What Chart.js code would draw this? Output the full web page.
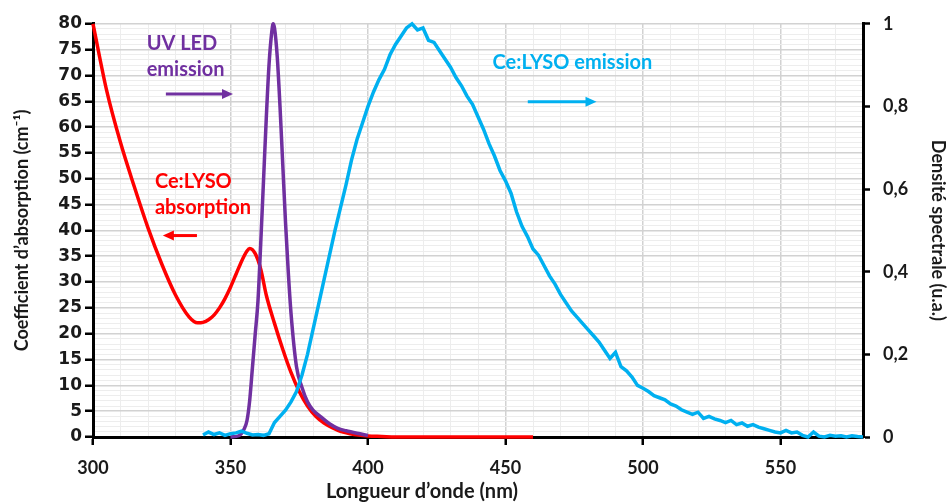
<!DOCTYPE html>
<html>
<head>
<meta charset="utf-8">
<script src="https://cdn.jsdelivr.net/npm/chart.js@4.4.1/dist/chart.umd.min.js"></script>
<style>
  html, body { margin: 0; background: #fff; }
  #wrap { width: 950px; height: 504px; }
</style>
</head>
<body>
<div id="wrap"><canvas id="spectres"></canvas></div>
<script>
// absorption Ce:LYSO (axe gauche, cm-1)
const absWl = [300, 305, 310, 315, 320, 325, 330, 335, 338, 340, 342, 344, 346, 348, 350, 352, 354, 356, 357, 359, 361, 363, 366, 369, 372, 375, 378, 381, 384, 387, 390, 395, 400, 405, 410, 460];
const absVal = [80, 67, 57, 48.5, 40.5, 33.5, 27.5, 23.2, 22.1, 22.2, 22.7, 23.6, 25, 26.8, 29, 31.5, 34, 36, 36.5, 35.5, 32.5, 27.5, 22, 17, 12.5, 8.8, 6, 4, 2.7, 1.8, 1.1, 0.5, 0.2, 0.1, 0, 0];

// emission LED UV (axe droit, u.a.)
const ledWl = [350, 353, 355, 356, 357, 358, 359, 360, 361, 362, 363, 364, 365, 365.5, 366, 367, 368, 369, 370, 371, 372, 374, 376, 378, 380, 383, 386, 389, 392, 396, 400];
const ledVal = [0, 0.003, 0.02, 0.04, 0.09, 0.17, 0.25, 0.33, 0.47, 0.62, 0.77, 0.9, 0.98, 1, 0.99, 0.92, 0.8, 0.66, 0.52, 0.4, 0.3, 0.17, 0.12, 0.085, 0.065, 0.048, 0.032, 0.021, 0.015, 0.009, 0.004];

// emission Ce:LYSO (axe droit, u.a.)
const emWl = [340, 342, 344, 346, 348, 350, 352, 354, 356, 358, 360, 362, 364, 366, 368, 370, 372, 374, 376, 378,
  380, 382, 384, 386, 388, 390, 392, 394, 396, 398, 400, 402, 404, 406, 408, 410, 412, 414, 416, 418,
  420, 422, 424, 426, 428, 430, 432, 434, 436, 438, 440, 442, 444, 446, 448, 450, 452, 454, 456, 458,
  460, 462, 464, 466, 468, 470, 472, 474, 476, 478, 480, 482, 484, 486, 488, 490, 492, 494, 496, 498,
  500, 502, 504, 506, 508, 510, 512, 514, 516, 518, 520, 522, 524, 526, 528, 530, 532, 534, 536, 538,
  540, 542, 544, 546, 548, 550, 552, 554, 556, 558, 560, 562, 564, 566, 568, 570, 572, 574, 576, 578, 580];
const emVal = [0.005, 0.012, 0.006, 0.01, 0.004, 0.008, 0.01, 0.014, 0.009, 0.005, 0.006, 0.004, 0.008, 0.035, 0.05, 0.065, 0.085, 0.11, 0.15, 0.2,
  0.26, 0.32, 0.38, 0.44, 0.5, 0.555, 0.61, 0.67, 0.72, 0.76, 0.8, 0.835, 0.865, 0.89, 0.925, 0.95, 0.97, 0.99, 1.0, 0.985,
  0.99, 0.96, 0.955, 0.935, 0.915, 0.895, 0.87, 0.85, 0.825, 0.805, 0.775, 0.745, 0.71, 0.68, 0.645, 0.62, 0.59, 0.545, 0.51, 0.485,
  0.455, 0.44, 0.415, 0.39, 0.37, 0.345, 0.325, 0.305, 0.29, 0.275, 0.26, 0.245, 0.23, 0.21, 0.19, 0.205, 0.17, 0.16, 0.145, 0.125,
  0.118, 0.11, 0.1, 0.095, 0.09, 0.08, 0.075, 0.066, 0.06, 0.055, 0.06, 0.045, 0.05, 0.044, 0.04, 0.035, 0.04, 0.03, 0.034, 0.026,
  0.03, 0.024, 0.02, 0.016, 0.012, 0.01, 0.016, 0.01, 0.012, 0.004, 0, 0.012, 0.002, 0, 0.004, 0.002, 0.003, 0, 0.003, 0.001, 0];

// étiquettes dans le graphe (coordonnées en nm / cm-1)
const notes = [
  { lines: ['UV LED', 'emission'], x: 319.5, y: [75, 69.9], color: '#7030A0', arrow: [326.5, 350.9, 66.4] },
  { lines: ['Ce:LYSO', 'absorption'], x: 322.5, y: [48.2, 43.1], color: '#FF0000', arrow: [337.8, 325.4, 39.0] },
  { lines: ['Ce:LYSO emission'], x: 445.3, y: [71.2], color: '#00B0F0', arrow: [458.1, 483.1, 64.9] }
];

const couleurs = { abs: '#FF0000', led: '#7030A0', em: '#00B0F0', texte: '#1a1a1a' };
const police = 'Lato, "Open Sans", sans-serif';

const pts = (xs, ys) => xs.map((x, i) => ({ x: x, y: ys[i] }));

const annotations = {
  id: 'annotations',
  afterDatasetsDraw(chart) {
    const { ctx, scales: { x, y } } = chart;
    ctx.save();
    ctx.font = 'bold 20px ' + police;
    ctx.textBaseline = 'alphabetic';
    notes.forEach(n => {
      ctx.fillStyle = n.color;
      ctx.strokeStyle = n.color;
      n.lines.forEach((t, i) => ctx.fillText(t, x.getPixelForValue(n.x), y.getPixelForValue(n.y[i])));
      const x0 = x.getPixelForValue(n.arrow[0]);
      const x1 = x.getPixelForValue(n.arrow[1]);
      const ay = y.getPixelForValue(n.arrow[2]);
      const dir = Math.sign(x1 - x0);
      ctx.lineWidth = 3;
      ctx.beginPath();
      ctx.moveTo(x0, ay);
      ctx.lineTo(x1 - dir * 8, ay);
      ctx.stroke();
      ctx.beginPath();
      ctx.moveTo(x1, ay);
      ctx.lineTo(x1 - dir * 11, ay - 5);
      ctx.lineTo(x1 - dir * 11, ay + 5);
      ctx.closePath();
      ctx.fill();
    });
    // titre de l'axe des abscisses
    ctx.fillStyle = couleurs.texte;
    ctx.font = 'bold 20px ' + police;
    ctx.textAlign = 'center';
    ctx.textBaseline = 'middle';
    ctx.fillText('Longueur d\u2019onde (nm)', 422, 492);
    ctx.restore();
  }
};

new Chart(document.getElementById('spectres'), {
  type: 'scatter',
  data: {
    datasets: [
      {
        label: 'Ce:LYSO emission',
        data: pts(emWl, emVal),
        yAxisID: 'y1',
        borderColor: couleurs.em,
        borderWidth: 3.5,
        showLine: true,
        pointRadius: 0,
        tension: 0,
        clip: false,
        order: 0
      },
      {
        label: 'UV LED emission',
        data: pts(ledWl, ledVal),
        yAxisID: 'y1',
        borderColor: couleurs.led,
        borderWidth: 3.5,
        showLine: true,
        pointRadius: 0,
        cubicInterpolationMode: 'monotone',
        clip: false,
        order: 1
      },
      {
        label: 'Ce:LYSO absorption',
        data: pts(absWl, absVal),
        yAxisID: 'y',
        borderColor: couleurs.abs,
        borderWidth: 3.5,
        showLine: true,
        pointRadius: 0,
        cubicInterpolationMode: 'monotone',
        clip: false,
        order: 2
      }
    ]
  },
  options: {
    responsive: true,
    maintainAspectRatio: false,
    animation: false,
    layout: { padding: { top: 19, left: 0, right: 0, bottom: 0 } },
    plugins: {
      legend: { display: false },
      tooltip: { enabled: false }
    },
    scales: {
      x: {
        type: 'linear',
        min: 300,
        max: 580,
        afterFit: s => { s.height = 67; },
        border: { color: '#000', width: 3 },
        grid: {
          color: c => (c.tick && c.tick.value % 50 === 0) ? '#d2d2d2' : '#ededed',
          lineWidth: c => (c.tick && c.tick.value % 50 === 0) ? 1.5 : 1,
          tickColor: c => (c.tick && c.tick.value % 50 === 0) ? '#000' : 'rgba(0,0,0,0)',
          tickLength: 8,
          tickWidth: 2.5
        },
        ticks: {
          stepSize: 10,
          autoSkip: false,
          maxRotation: 0,
          padding: 12,
          color: couleurs.texte,
          font: { family: police, weight: 'bold', size: 18 },
          callback: v => v % 50 === 0 ? v : ''
        }
      },
      y: {
        position: 'left',
        min: 0,
        max: 80,
        afterFit: s => { s.width = 93; },
        border: { color: '#000', width: 3 },
        grid: {
          color: c => (c.tick && c.tick.value % 5 === 0) ? '#d2d2d2' : '#ededed',
          lineWidth: c => (c.tick && c.tick.value % 5 === 0) ? 1.5 : 1,
          tickColor: c => (c.tick && c.tick.value % 5 === 0) ? '#000' : 'rgba(0,0,0,0)',
          tickLength: 8,
          tickWidth: 2.5
        },
        ticks: {
          stepSize: 1,
          autoSkip: false,
          padding: 3,
          color: couleurs.texte,
          font: { family: '"DejaVu Sans"', weight: 'bold', size: 17 },
          callback: v => v % 5 === 0 ? v : ''
        },
        title: {
          display: true,
          text: 'Coefficient d\u2019absorption (cm\u207B\u00B9)',
          color: couleurs.texte,
          font: { family: police, weight: 'bold', size: 18 },
          padding: { top: 11, bottom: 0 }
        }
      },
      y1: {
        position: 'right',
        min: 0,
        max: 1,
        afterFit: s => { s.width = 87; },
        border: { color: '#000', width: 3 },
        grid: {
          drawOnChartArea: false,
          tickColor: '#000',
          tickLength: 7,
          tickWidth: 2.5
        },
        ticks: {
          stepSize: 0.2,
          padding: 13,
          color: couleurs.texte,
          font: { family: police, weight: 'bold', size: 18 },
          callback: v => String(Math.round(v * 10) / 10).replace('.', ',')
        },
        title: {
          display: true,
          text: 'Densit\u00E9 spectrale (u.a.)',
          color: couleurs.texte,
          font: { family: police, weight: 'bold', size: 18 },
          padding: { top: 1, bottom: 0 }
        }
      }
    }
  },
  plugins: [annotations]
});
</script>
</body>
</html>
